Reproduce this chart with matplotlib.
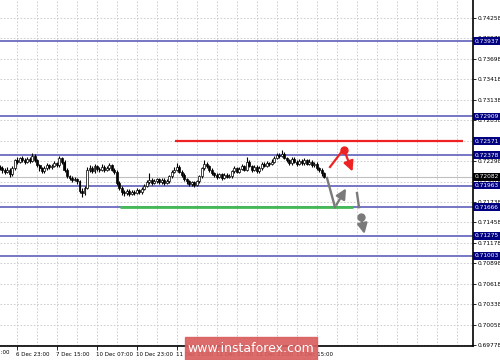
import matplotlib
matplotlib.use('Agg')
import matplotlib.pyplot as plt
import matplotlib.transforms as mtransforms

# H1 bars, index 0 = 6 Dec 07:00
first_bar = 9
first_open = 0.7222
closes = [0.7220, 0.7218, 0.7215, 0.7218, 0.7212, 0.7220, 0.7231, 0.7229, 0.7234, 0.7231,
          0.7229, 0.7233, 0.7230, 0.7237, 0.7231, 0.7224, 0.7220, 0.7216, 0.7220, 0.7224,
          0.7222, 0.7223, 0.7227, 0.7224, 0.7234, 0.7229, 0.7218, 0.7209, 0.7207, 0.7204,
          0.7205, 0.7202, 0.7189, 0.7186, 0.7193, 0.7218, 0.7220, 0.7216, 0.7223, 0.7219,
          0.7218, 0.7222, 0.7218, 0.7220, 0.7224, 0.7218, 0.7215, 0.7200, 0.7193, 0.7187,
          0.7186, 0.7189, 0.7185, 0.7187, 0.7186, 0.7190, 0.7187, 0.7192, 0.7196, 0.7201,
          0.7204, 0.7200, 0.7202, 0.7205, 0.7201, 0.7204, 0.7200, 0.7202, 0.7209, 0.7215,
          0.7218, 0.7222, 0.7215, 0.7211, 0.7205, 0.7202, 0.7198, 0.7201, 0.7197, 0.7202,
          0.7209, 0.7220, 0.7226, 0.7223, 0.7218, 0.7213, 0.7211, 0.7208, 0.7212, 0.7207,
          0.7211, 0.7208, 0.7209, 0.7216, 0.7220, 0.7215, 0.7219, 0.7223, 0.7218, 0.7229,
          0.7223, 0.7218, 0.7222, 0.7216, 0.7220, 0.7226, 0.7223, 0.7227, 0.7226, 0.7229,
          0.7234, 0.7238, 0.7237, 0.7240, 0.7234, 0.7231, 0.7227, 0.7233, 0.7229, 0.7226,
          0.7230, 0.7227, 0.7231, 0.7226, 0.7229, 0.7224, 0.7226, 0.7220, 0.7218, 0.7213,
          0.7208]
highs = [0.7225, 0.7223, 0.7220, 0.7221, 0.7220, 0.7223, 0.7233, 0.7235, 0.7236, 0.7237,
         0.7234, 0.7236, 0.7235, 0.7241, 0.7239, 0.7233, 0.7226, 0.7222, 0.7223, 0.7227,
         0.7226, 0.7226, 0.7230, 0.7229, 0.7237, 0.7236, 0.7231, 0.7220, 0.7211, 0.7209,
         0.7208, 0.7207, 0.7204, 0.7193, 0.7196, 0.7221, 0.7224, 0.7223, 0.7226, 0.7225,
         0.7222, 0.7226, 0.7224, 0.7223, 0.7227, 0.7226, 0.7220, 0.7217, 0.7202, 0.7195,
         0.7190, 0.7192, 0.7191, 0.7190, 0.7190, 0.7193, 0.7192, 0.7194, 0.7199, 0.7204,
         0.7214, 0.7206, 0.7205, 0.7207, 0.7207, 0.7206, 0.7206, 0.7205, 0.7211, 0.7218,
         0.7221, 0.7227, 0.7224, 0.7217, 0.7213, 0.7207, 0.7204, 0.7203, 0.7203, 0.7204,
         0.7211, 0.7222, 0.7231, 0.7229, 0.7225, 0.7220, 0.7215, 0.7213, 0.7214, 0.7214,
         0.7213, 0.7213, 0.7212, 0.7218, 0.7223, 0.7222, 0.7221, 0.7226, 0.7225, 0.7235,
         0.7231, 0.7225, 0.7224, 0.7224, 0.7223, 0.7228, 0.7229, 0.7230, 0.7229, 0.7232,
         0.7237, 0.7241, 0.7241, 0.7245, 0.7242, 0.7236, 0.7233, 0.7235, 0.7235, 0.7231,
         0.7233, 0.7232, 0.7234, 0.7233, 0.7232, 0.7231, 0.7229, 0.7228, 0.7222, 0.7220,
         0.7215]
lows = [0.7217, 0.7214, 0.7212, 0.7213, 0.7208, 0.7210, 0.7218, 0.7226, 0.7227, 0.7228,
        0.7226, 0.7227, 0.7227, 0.7228, 0.7229, 0.7221, 0.7216, 0.7213, 0.7214, 0.7218,
        0.7219, 0.7219, 0.7221, 0.7221, 0.7222, 0.7226, 0.7215, 0.7206, 0.7204, 0.7201,
        0.7202, 0.7199, 0.7186, 0.7180, 0.7183, 0.7191, 0.7215, 0.7213, 0.7214, 0.7216,
        0.7215, 0.7216, 0.7215, 0.7216, 0.7218, 0.7216, 0.7212, 0.7197, 0.7190, 0.7183,
        0.7182, 0.7183, 0.7182, 0.7183, 0.7183, 0.7184, 0.7184, 0.7185, 0.7190, 0.7194,
        0.7199, 0.7197, 0.7198, 0.7200, 0.7198, 0.7199, 0.7197, 0.7198, 0.7200, 0.7207,
        0.7213, 0.7216, 0.7213, 0.7208, 0.7202, 0.7199, 0.7195, 0.7196, 0.7194, 0.7195,
        0.7200, 0.7207, 0.7218, 0.7220, 0.7215, 0.7211, 0.7208, 0.7205, 0.7206, 0.7204,
        0.7205, 0.7206, 0.7206, 0.7207, 0.7214, 0.7213, 0.7213, 0.7217, 0.7216, 0.7216,
        0.7221, 0.7215, 0.7216, 0.7214, 0.7214, 0.7218, 0.7221, 0.7221, 0.7223, 0.7224,
        0.7227, 0.7232, 0.7234, 0.7235, 0.7232, 0.7228, 0.7224, 0.7225, 0.7227, 0.7223,
        0.7224, 0.7225, 0.7225, 0.7224, 0.7224, 0.7222, 0.7222, 0.7218, 0.7215, 0.7210,
        0.7206]

level_prices = [0.73937, 0.72909, 0.72378, 0.71963, 0.71666, 0.71275, 0.71003]
level_labels = ['0.73937', '0.72909', '0.72378', '0.71963', '0.71666', '0.71275', '0.71003']
resist_price, resist_label = 0.72571, '0.72571'
resist_from, resist_to = 79.2, 194.4
support_price = 0.71666
support_from, support_to = 57.2, 150.4
bid_price, bid_label = 0.72082, '0.72082'

ytick_vals = [0.74258, 0.73978, 0.73698, 0.73418, 0.73138, 0.72858, 0.72578, 0.72298,
              0.72018, 0.71738, 0.71458, 0.71178, 0.70898, 0.70618, 0.70338, 0.70058, 0.69778]
xtick_bars = [0, 16, 32, 48, 64, 80, 96, 112, 128]
xtick_labels = ['6 Dec 07:00', '6 Dec 23:00', '7 Dec 15:00', '10 Dec 07:00', '10 Dec 23:00',
                '11 Dec 15:00', '12 Dec 07:00', '12 Dec 23:00', '13 Dec 15:00']

# forecast sketch paths (bar, price)
gray_drop = [(140, 0.72066), (143.2, 0.71666)]
gray_up = [(143.2, 0.71666), (148.2, 0.71956)]
red_up = [(141.2, 0.72217), (146.4, 0.72450)]
red_dot = (146.8, 0.72450)
red_down = [(146.8, 0.72450), (150.6, 0.72120)]
gray_break = [(152.0, 0.71860), (152.8, 0.71666)]
gray_dot = (153.6, 0.71530)
gray_down = [(153.6, 0.71530), (155.2, 0.71262)]

fig = plt.figure(figsize=(5, 3.6), dpi=100)
ax = fig.add_axes([0, 14 / 360, 473 / 500, 346 / 360])

# grid
for v in ytick_vals:
    ax.axhline(v, color='#c8c8c8', lw=0.6, ls=(0, (2, 2)), zorder=0)
for b in range(0, 200, 8):
    ax.axvline(b, color='#c8c8c8', lw=0.6, ls=(0, (2, 2)), zorder=0)

# levels
for p in level_prices:
    ax.axhline(p, color='#6b6bbf', lw=1.3, zorder=1)
ax.hlines(resist_price, resist_from, resist_to, color='#ee2222', lw=1.6, zorder=2)
ax.hlines(support_price, support_from, support_to, color='#44bb55', lw=2.0, zorder=2)
ax.axhline(bid_price, color='#c0c0c0', lw=0.8, zorder=1)

# candles
opens = [first_open] + closes[:-1]
for i, (o, h, l, c) in enumerate(zip(opens, highs, lows, closes)):
    x = first_bar + i
    ax.vlines(x, l, h, color='black', lw=0.8, zorder=3)
    face = 'white' if c >= o else 'black'
    ax.bar(x, abs(c - o) or 0.00003, bottom=min(o, c), width=0.8,
           color=face, edgecolor='black', lw=0.5, zorder=4)

# forecast arrows
gray = '#7a7a7a'
red = '#ee2222'
head = '-|>,head_length=0.6,head_width=0.3'
ax.plot(*zip(*gray_drop), color=gray, lw=1.7, zorder=5)
ax.annotate('', xy=gray_up[1], xytext=gray_up[0],
            arrowprops=dict(arrowstyle=head, color=gray, lw=1.7), zorder=5)
ax.plot(*zip(*red_up), color=red, lw=1.6, zorder=5)
ax.plot(*red_dot, 'o', color=red, ms=5, zorder=6)
ax.annotate('', xy=red_down[1], xytext=red_down[0],
            arrowprops=dict(arrowstyle=head, color=red, lw=1.6), zorder=5)
ax.plot(*zip(*gray_break), color=gray, lw=1.7, zorder=5)
ax.plot(*gray_dot, 'o', color=gray, ms=5, zorder=6)
ax.annotate('', xy=gray_down[1], xytext=gray_down[0],
            arrowprops=dict(arrowstyle=head, color=gray, lw=1.7), zorder=5)

# axes style
for s in ['left', 'top']:
    ax.spines[s].set_visible(False)
ax.spines['right'].set_linewidth(1.2)
ax.spines['bottom'].set_linewidth(1.2)
ax.yaxis.tick_right()
ax.set_yticks(ytick_vals)
ax.set_yticklabels(['%.5f' % v for v in ytick_vals], fontsize=4.2)
ax.tick_params(axis='y', length=2, width=0.6, pad=1)
ax.set_xticks(xtick_bars[1:])
ax.set_xticklabels(xtick_labels[1:], fontsize=4.0, ha='left')
ax.tick_params(axis='x', length=3, width=0.6, pad=1.5)
offset = mtransforms.ScaledTranslation(-1 / 100, 0, fig.dpi_scale_trans)
for lbl in ax.get_xticklabels():
    lbl.set_transform(lbl.get_transform() + offset)

# limits last: set_xticks would otherwise widen the view
ax.set_xlim(9.2, 198.4)
ax.set_ylim(0.69764, 0.74505)

# first time label sits left of the view, only its tail shows
xtrans = mtransforms.blended_transform_factory(ax.transData, ax.transAxes)
ax.text(xtick_bars[0], -0.0, xtick_labels[0], transform=xtrans + offset, fontsize=4.0,
        ha='left', va='top', clip_on=False,
        bbox=dict(boxstyle='square,pad=0', fc='none', ec='none'))
fig.texts  # keep
ax.texts[-1].set_y(-0.0)
ax.texts[-1].set_transform(xtrans + mtransforms.ScaledTranslation(-1 / 100, -4.5 / 100, fig.dpi_scale_trans))

# price label boxes
trans = mtransforms.blended_transform_factory(ax.transAxes, ax.transData)
for p, t in zip(level_prices + [resist_price], level_labels + [resist_label]):
    ax.text(1.004, p, t, transform=trans, fontsize=4.2, color='white', va='center', ha='left',
            bbox=dict(boxstyle='square,pad=0.25', fc='#000080', ec='none'), zorder=10, clip_on=False)
ax.text(1.004, bid_price, bid_label, transform=trans, fontsize=4.2, color='white', va='center', ha='left',
        bbox=dict(boxstyle='square,pad=0.25', fc='black', ec='none'), zorder=10, clip_on=False)

# watermark
fig.patches.append(plt.Rectangle((185 / 500, 0), 132 / 500, 23 / 360, transform=fig.transFigure,
                                 color='#d95f5f', alpha=0.92, zorder=20))
fig.text(251 / 500, 11 / 360, 'www.instaforex.com', color='white', fontsize=9,
         ha='center', va='center', zorder=21)

fig.savefig('out.png', dpi=100)
